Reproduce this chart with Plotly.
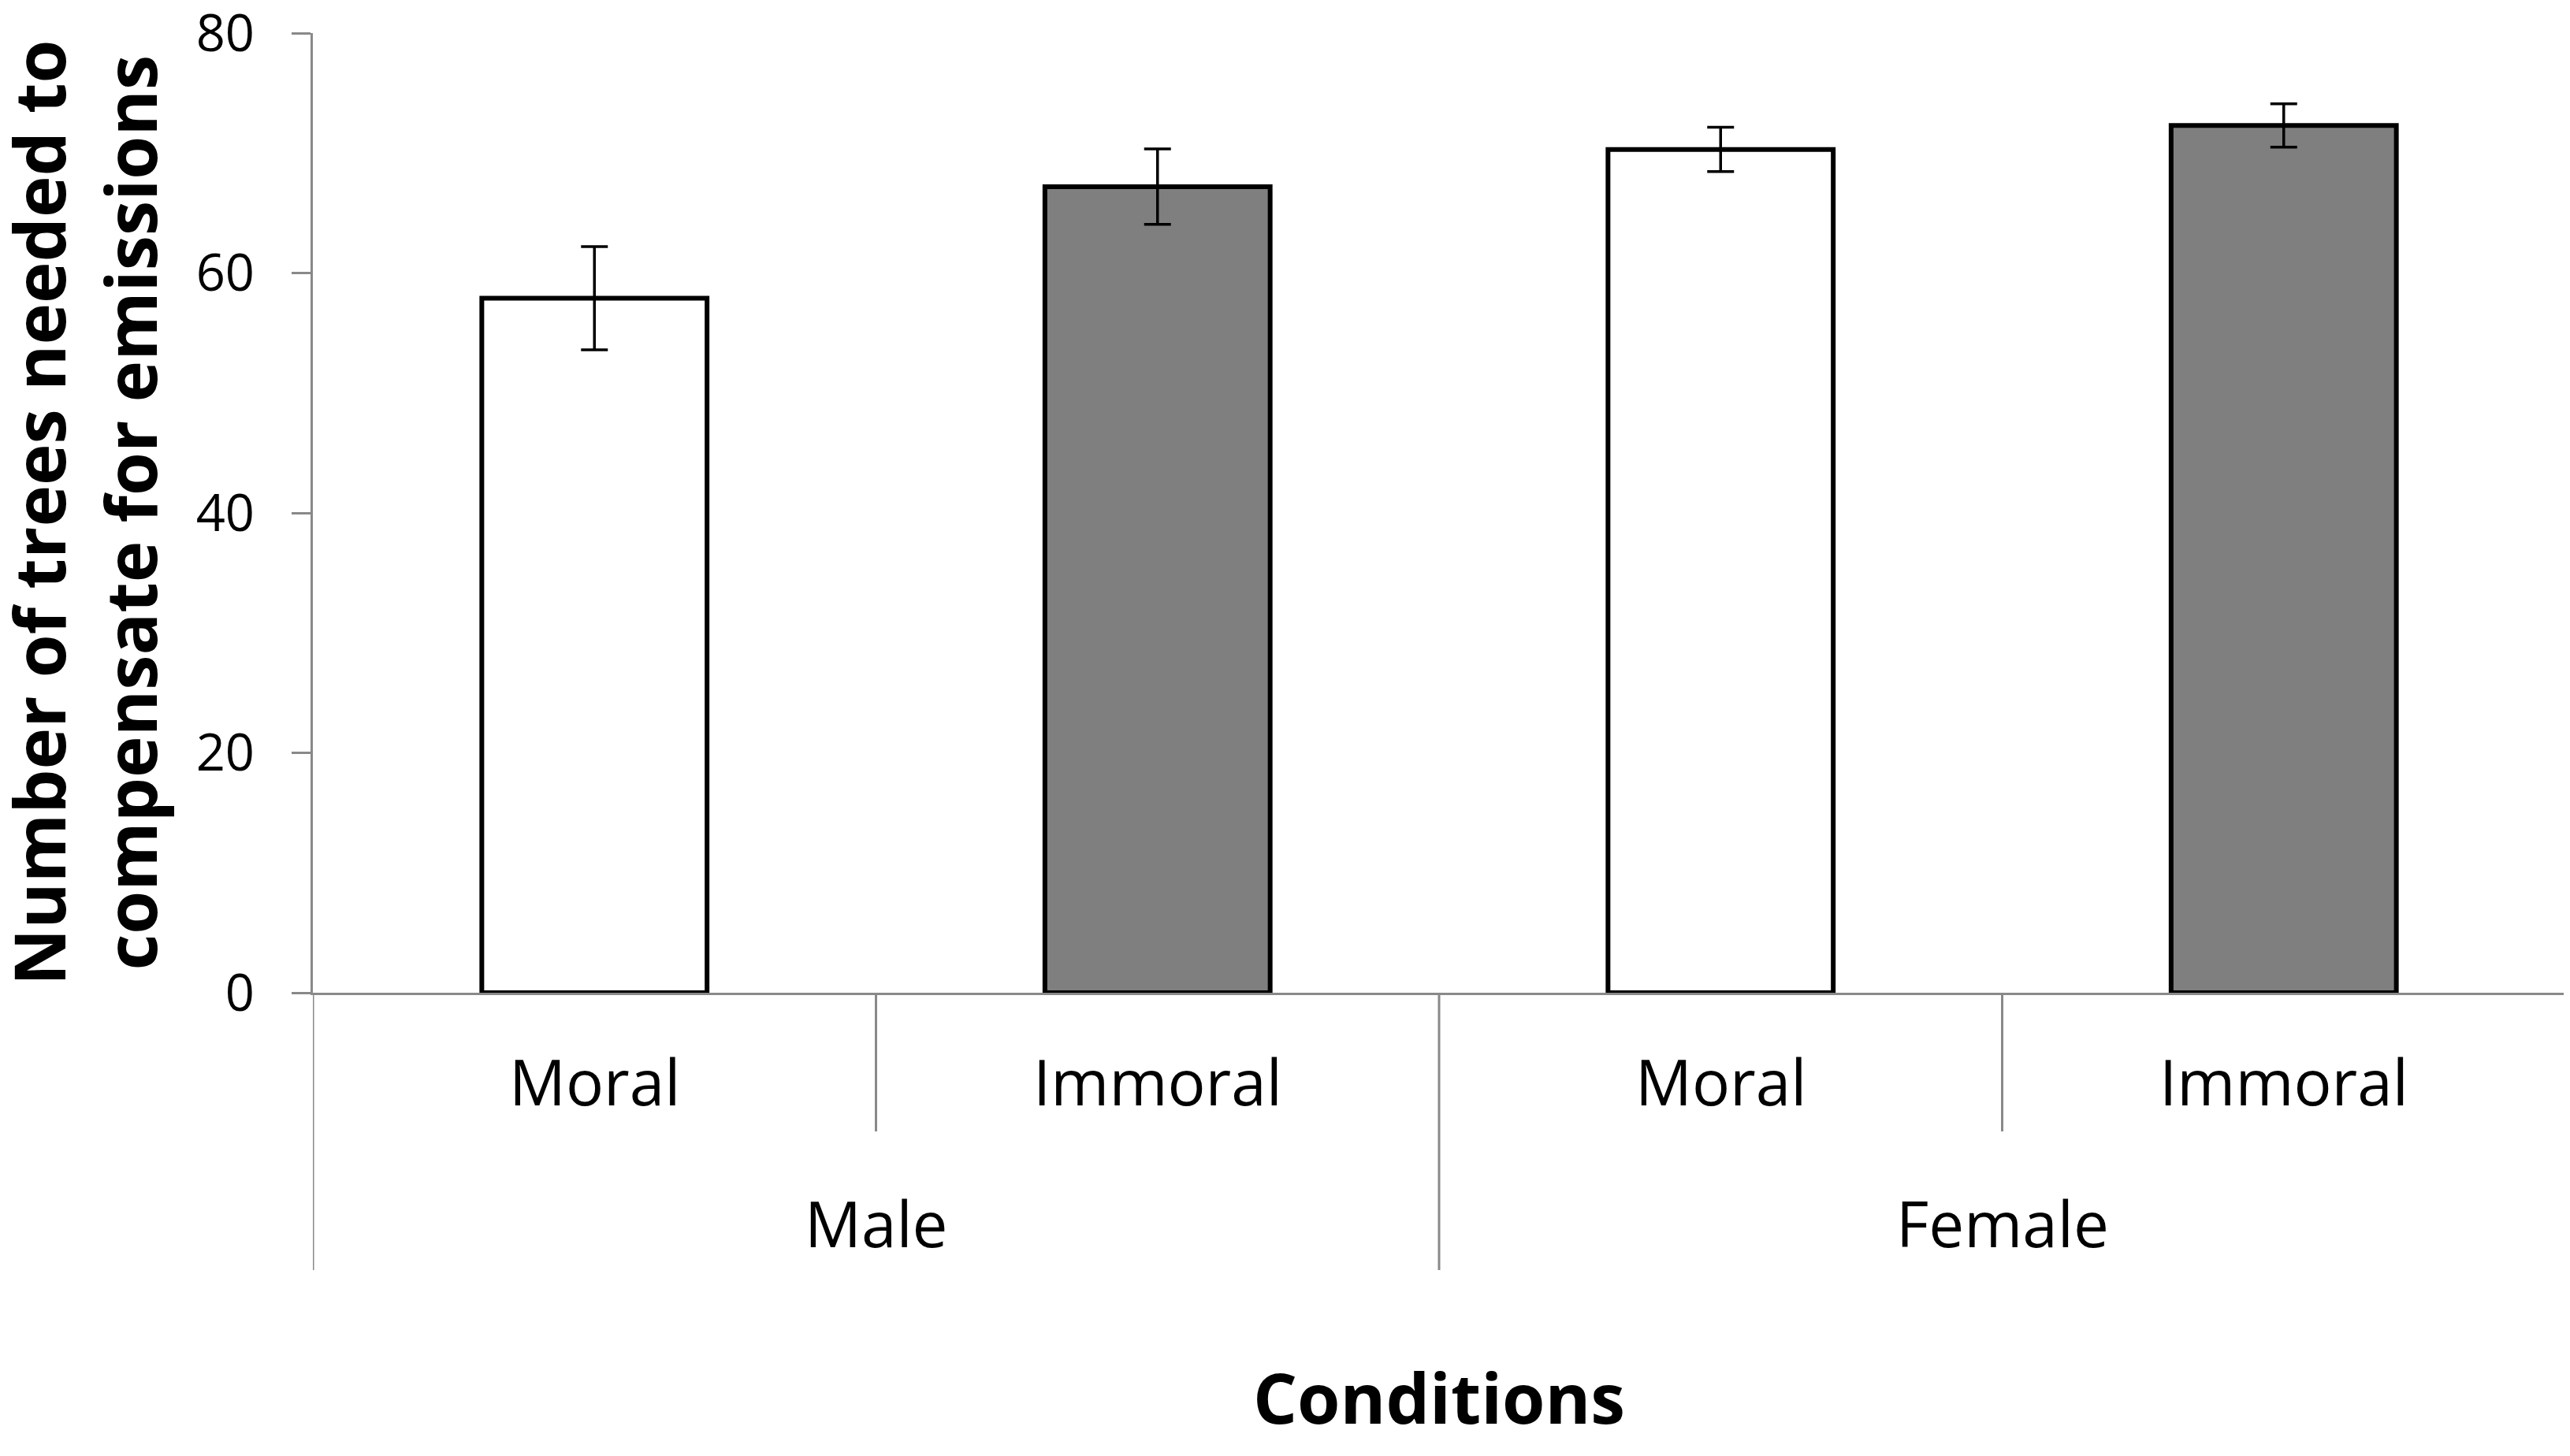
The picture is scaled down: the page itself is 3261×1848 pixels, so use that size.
import plotly.graph_objects as go

conditions = ["Moral", "Immoral", "Moral", "Immoral"]
groups = ["Male", "Male", "Female", "Female"]
means = [57.9, 67.2, 70.3, 72.3]
errors = [4.3, 3.15, 1.85, 1.8]
fills = ["#ffffff", "#7f7f7f", "#ffffff", "#7f7f7f"]
y_ticks = [0, 20, 40, 60, 80]
y_title = "Number of trees needed to<br>compensate for emissions"
x_title = "Conditions"

W, H = 3261, 1848
# page body adds an 8px offset, so margins are shifted accordingly
L, T = 389, 34
plot_w, plot_h = 2858, 1218
R = W - L - plot_w
B = H - T - plot_h

def py(px_below):
    return -px_below / plot_h

FONT = "Open Sans"
GRAY = "#898989"

xs = list(range(len(conditions)))

fig = go.Figure()
fig.add_trace(go.Bar(
    x=xs, y=means, width=0.4,
    marker=dict(color=fills, line=dict(color="black", width=6)),
    error_y=dict(type="data", array=errors, visible=True,
                 color="black", thickness=3.5, width=17),
    showlegend=False,
))

annotations = []
for i, c in enumerate(conditions):
    annotations.append(dict(x=i, y=py(111), xref="x", yref="paper", text=c,
                            showarrow=False, xanchor="center", yanchor="middle",
                            font=dict(family=FONT, size=80, color="black")))

# group labels
seen = []
for g in groups:
    if g not in seen:
        seen.append(g)
for g in seen:
    idx = [i for i, gg in enumerate(groups) if gg == g]
    cx = (idx[0] + idx[-1]) / 2
    annotations.append(dict(x=cx, y=py(291), xref="x", yref="paper", text=g,
                            showarrow=False, xanchor="center", yanchor="middle",
                            font=dict(family=FONT, size=80, color="black")))

annotations.append(dict(x=0.5, y=py(513), xref="paper", yref="paper", text=x_title,
                        showarrow=False, xanchor="center", yanchor="middle",
                        font=dict(family=FONT, size=88, color="black", weight="bold")))
annotations.append(dict(x=(98 - L) / plot_w, y=0.5, xref="paper", yref="paper",
                        text=y_title, textangle=-90, showarrow=False,
                        xanchor="center", yanchor="middle",
                        font=dict(family=FONT, size=89, color="black", weight="bold")))

shapes = []
n = len(conditions)
for b in range(n + 1):
    xb = b - 0.5
    if b == 0 or b == n or groups[b - 1] != groups[b]:
        depth = 352
    else:
        depth = 176
    shapes.append(dict(type="line", xref="x", yref="paper", x0=xb, x1=xb,
                       y0=0, y1=py(depth), line=dict(color=GRAY, width=3)))

fig.update_layout(
    width=W, height=H,
    margin=dict(l=L, r=R, t=T, b=B),
    paper_bgcolor="white", plot_bgcolor="white",
    annotations=annotations, shapes=shapes,
    xaxis=dict(range=[-0.5, n - 0.5], showticklabels=False, ticks="",
               showline=True, linecolor=GRAY, linewidth=3, showgrid=False,
               zeroline=False, fixedrange=True, automargin=False),
    yaxis=dict(range=[0, 80], tickvals=y_ticks, ticks="outside", ticklen=24,
               tickwidth=3, tickcolor=GRAY, showline=True, linecolor=GRAY,
               linewidth=3, showgrid=False, zeroline=False,
               tickfont=dict(family=FONT, size=65, color="black"),
               ticklabelstandoff=34, ticklabeloverflow="allow",
               automargin=False),
)

fig.write_html("out.html")
